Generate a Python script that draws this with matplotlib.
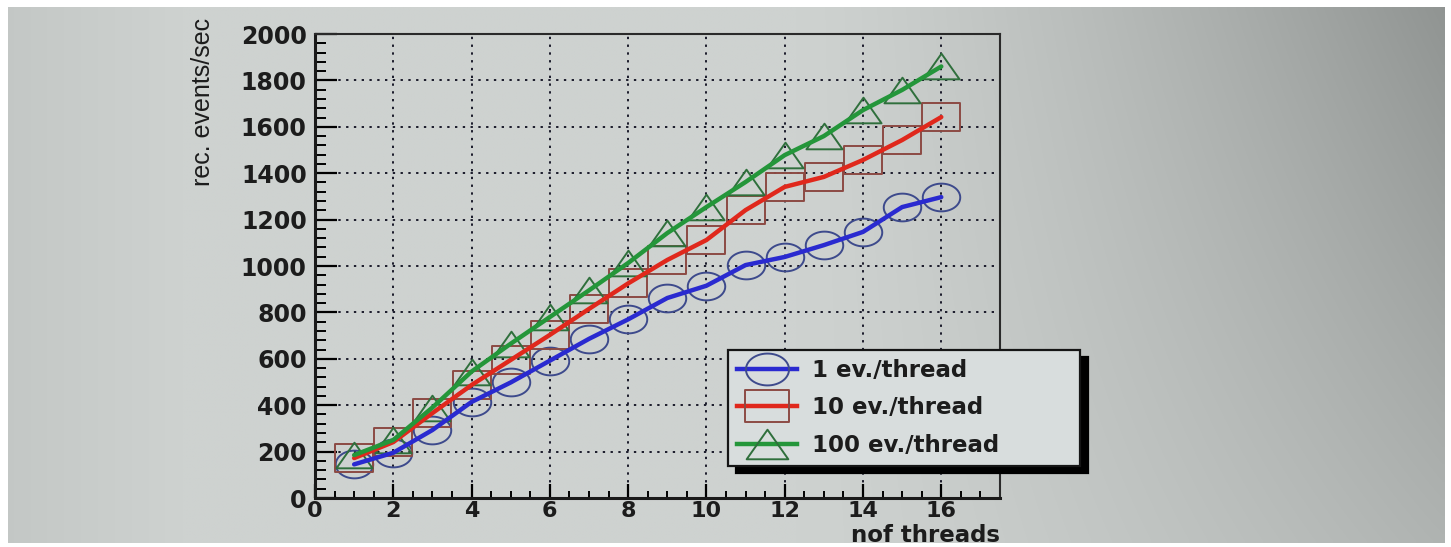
import numpy as np
import matplotlib
matplotlib.use("Agg")
import matplotlib.pyplot as plt
from matplotlib.path import Path
from matplotlib.lines import Line2D
from matplotlib.ticker import MultipleLocator

# ---- data ----
threads = [1, 2, 3, 4, 5, 6, 7, 8, 9, 10, 11, 12, 13, 14, 15, 16]
ev1 = [145, 195, 293, 414, 498, 592, 686, 770, 862, 915, 1004, 1039, 1090, 1147, 1254, 1297]
ev10 = [172, 241, 366, 487, 595, 703, 815, 925, 1026, 1112, 1241, 1341, 1384, 1457, 1543, 1642]
ev100 = [185, 250, 390, 545, 665, 780, 895, 1013, 1142, 1254, 1362, 1478, 1560, 1672, 1759, 1860]
labels = ["1 ev./thread", "10 ev./thread", "100 ev./thread"]
x_ticks = [0, 2, 4, 6, 8, 10, 12, 14, 16]
y_ticks = [0, 200, 400, 600, 800, 1000, 1200, 1400, 1600, 1800, 2000]

W, H = 1451, 547
fig = plt.figure(figsize=(W / 100, H / 100), dpi=100)
fig.patch.set_facecolor("white")

# photographic gray background
bg = fig.add_axes([8 / W, 4 / H, (1445 - 8) / W, (540 - 4) / H])
bg.set_axis_off()
nx, ny = 300, 120
gx = np.linspace(0, 1, nx)[None, :]
gy = np.linspace(0, 1, ny)[:, None]  # 0 top, 1 bottom
base = np.array([206, 210, 208]) / 255.0
dark = np.clip((gx - 0.55) / 0.45, 0, 1) ** 1.3 * (0.24 - 0.12 * gy)
left = np.clip((0.12 - gx) / 0.12, 0, 1) * 0.04
img = base[None, None, :] - dark[..., None] - left[..., None] * np.ones_like(gy)[..., None]
img = np.clip(img, 0, 1)
bg.imshow(img, aspect="auto", extent=[0, 1, 0, 1], interpolation="bilinear")

ax = fig.add_axes([315 / W, 1 - 498 / H, (1000 - 315) / W, (498 - 34) / H])
ax.set_facecolor("none")
ax.set_xlim(0, 17.5)
ax.set_ylim(0, 2000)


def shape(kind):
    if kind == "ellipse":
        t = np.linspace(0, 2 * np.pi, 60)
        v = np.column_stack([np.cos(t), 0.74 * np.sin(t)])
        return Path(v, closed=True)
    if kind == "rect":
        v = [(-1, -0.73), (1, -0.73), (1, 0.73), (-1, 0.73), (-1, -0.73)]
        return Path(v, closed=True)
    v = [(-1, -0.71), (1, -0.71), (0, 0.71), (-1, -0.71)]
    return Path(v, closed=True)


series = [
    (ev1, shape("ellipse"), "#2a2ad0", "#3d4a8c", 27),
    (ev10, shape("rect"), "#e0281c", "#8c4a44", 27),
    (ev100, shape("tri"), "#24963a", "#2f6f3c", 26),
]

handles = []
for ys, mk, lc, mc, ms in series:
    ax.plot(threads, ys, linestyle="none", marker=mk, markersize=ms,
            markerfacecolor="none", markeredgecolor=mc, markeredgewidth=1.4, zorder=3)
    ax.plot(threads, ys, color=lc, lw=3.2, solid_capstyle="round", zorder=4)
    handles.append(Line2D([0], [0], color=lc, lw=3.2, marker=mk, markersize=ms + 4,
                          markerfacecolor="none", markeredgecolor=mc, markeredgewidth=1.4))

# axes styling (ROOT-like)
ax.set_xticks(x_ticks)
ax.set_yticks(y_ticks)
ax.xaxis.set_minor_locator(MultipleLocator(0.5))
ax.yaxis.set_minor_locator(MultipleLocator(40))
ax.tick_params(axis="both", which="both", direction="in", top=False, right=False)
ax.tick_params(axis="y", which="major", length=16, width=1.6, pad=6)
ax.tick_params(axis="y", which="minor", length=8, width=1.4)
ax.tick_params(axis="x", which="major", length=10, width=1.6, pad=2)
ax.tick_params(axis="x", which="minor", length=5, width=1.4)
for lab in ax.get_yticklabels():
    lab.set_fontfamily("DejaVu Sans")
    lab.set_fontweight("bold")
    lab.set_fontsize(17)
    lab.set_color("#1c1c1c")
for lab in ax.get_xticklabels():
    lab.set_fontfamily("DejaVu Sans")
    lab.set_fontweight("bold")
    lab.set_fontsize(16)
    lab.set_color("#1c1c1c")
ax.grid(True, which="major", color="#1a1a2a", linestyle=(0, (1.2, 2.8)), linewidth=1.4)
ax.set_axisbelow(True)
for side in ["left", "bottom"]:
    ax.spines[side].set_linewidth(2.2)
    ax.spines[side].set_color("#1a1a1a")
for side in ["top", "right"]:
    ax.spines[side].set_linewidth(1.5)
    ax.spines[side].set_color("#2a2a2a")

leg = fig.legend(handles, labels, loc="upper left", mode="expand",
                 bbox_to_anchor=(728 / W, 1 - 465 / H, (1080 - 728) / W, 115 / H),
                 frameon=True, fancybox=False, facecolor="#d8dddd", edgecolor="#151515",
                 framealpha=1, shadow={"ox": 6, "oy": -5, "facecolor": "black",
                                        "edgecolor": "black", "alpha": 1},
                 prop={"family": "DejaVu Sans", "weight": "bold", "size": 16.5},
                 handlelength=2.6, handletextpad=0.65, labelspacing=0.62,
                 borderpad=0.4, borderaxespad=0)
leg.get_frame().set_linewidth(1.6)
for t in leg.get_texts():
    t.set_color("#1c1c1c")

fig.text(1000 / W, 1 - 536 / H, "nof threads", ha="right", va="center",
         fontfamily="DejaVu Sans", fontweight="bold", fontsize=16.5, color="#1c1c1c")
fig.text(203 / W, 1 - 18 / H, "rec. events/sec", ha="center", va="top", rotation=90,
         fontfamily="Liberation Sans", fontsize=18, color="#1c1c1c")

fig.savefig("out.png", dpi=100)
